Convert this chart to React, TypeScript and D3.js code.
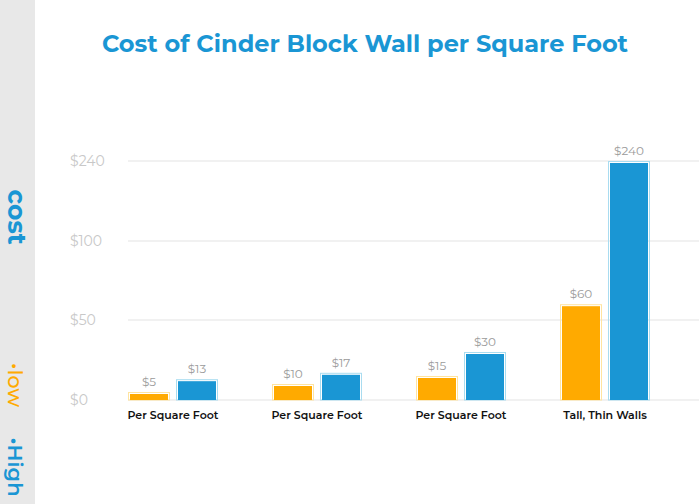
import React from "react";
import * as d3 from "d3";

const categories = ["Per Square Foot", "Per Square Foot ", "Per Square Foot  ", "Tall, Thin Walls"];
const lowValues = [5, 10, 15, 60];
const highValues = [13, 17, 30, 240];
const tickValues = [0, 50, 100, 240];
const seriesKeys = ["low", "high"];

const W = 699;
const H = 504;
const FONT = "Montserrat, 'Open Sans', 'Noto Sans', sans-serif";
const BLUE = "#1a96d4";
const ORANGE = "#ffaa00";

export default function App() {
  const y = d3.scaleLinear().domain(tickValues).range([400, 320, 241, 161]);
  const x = d3.scaleBand<string>().domain(categories).range([128, 650]).paddingInner(0.375).paddingOuter(0);
  const xs = d3.scaleBand<string>().domain(seriesKeys).range([0, x.bandwidth()]).paddingInner(0.125);
  const colors: Record<string, string> = { low: ORANGE, high: BLUE };
  const borders: Record<string, string> = { low: "#ffe4a0", high: "#a9dcf0" };

  return (
    <svg width={W} height={H} style={{ position: "absolute", left: 0, top: 0, background: "#fff" }}>
      <rect x={0} y={0} width={W} height={H} fill="#fff" />
      <rect x={0} y={0} width={35} height={H} fill="#e8e8e8" />
      <text transform="translate(8,217) rotate(90)" textAnchor="middle" fontFamily={FONT} fontWeight={700} fontSize={25} fill={BLUE}>cost</text>
      <text transform="translate(8,385) rotate(90)" textAnchor="middle" fontFamily={FONT} fontWeight={500} fontSize={21} fill={ORANGE}>•low</text>
      <text transform="translate(8,467) rotate(90)" textAnchor="middle" fontFamily={FONT} fontWeight={600} fontSize={21} fill={BLUE}>•High</text>

      <text x={365} y={52} textAnchor="middle" fontFamily={FONT} fontWeight={700} fontSize={24} fill={BLUE}>
        Cost of Cinder Block Wall per Square Foot
      </text>

      {tickValues.map((t) => (
        <g key={t}>
          <line x1={128} x2={W} y1={y(t)} y2={y(t)} stroke="#e3e3e3" strokeWidth={1} />
          <text x={70} y={y(t) + 5} fontFamily={FONT} fontSize={14} fill="#c8c8c8">${t}</text>
        </g>
      ))}

      {categories.map((c, i) => {
        const vals: Record<string, number> = { low: lowValues[i], high: highValues[i] };
        return (
          <g key={c} transform={`translate(${x(c)},0)`}>
            {seriesKeys.map((k) => {
              const bx = xs(k)!;
              const bw = xs.bandwidth();
              const top = y(vals[k]);
              return (
                <g key={k}>
                  <rect x={bx + 0.5} y={top + 0.5} width={bw - 1} height={400 - top - 0.5} fill="none" stroke={borders[k]} strokeWidth={1} />
                  <rect x={bx + 2} y={top + 2} width={bw - 4} height={400 - top - 2} fill={colors[k]} />
                  <text x={bx + bw / 2} y={top - 6} textAnchor="middle" fontFamily={FONT} fontSize={12} fill="#9a9a9a">${vals[k]}</text>
                </g>
              );
            })}
            <text x={x.bandwidth() / 2} y={419} textAnchor="middle" fontFamily={FONT} fontWeight={600} fontSize={11} fill="#111">{c.trim()}</text>
          </g>
        );
      })}
    </svg>
  );
}
